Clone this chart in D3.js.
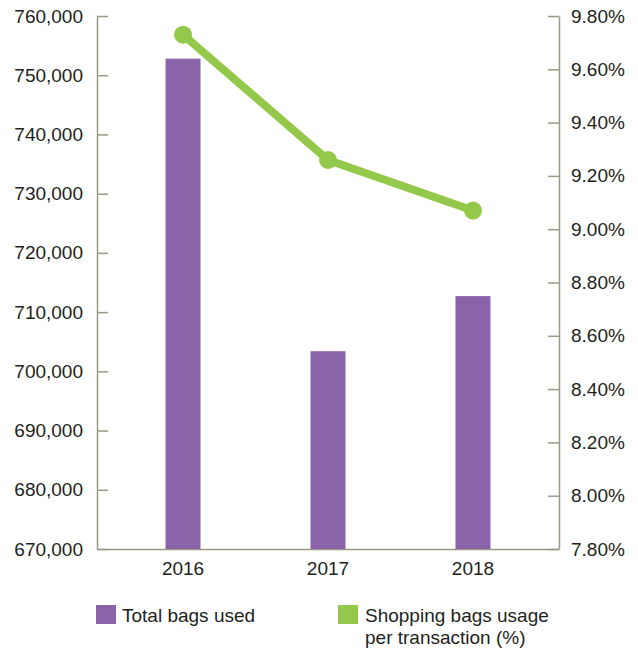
<!DOCTYPE html>
<html>
<head>
<meta charset="utf-8">
<script src="https://cdn.jsdelivr.net/npm/d3@7"></script>
<style>
  body { margin: 0; background: #fff; }
  svg text { font-family: "Liberation Sans", Arial, sans-serif; fill: #231f20; }
  .axis path, .axis line { stroke: #9a9a84; stroke-width: 1.5; }
</style>
</head>
<body>
<div id="chart"></div>
<script>
// data
const years = ["2016", "2017", "2018"];
const totalBags = [752800, 703400, 712700];
const usagePct = [9.73, 9.26, 9.07];
const leftTicks = [670000, 680000, 690000, 700000, 710000, 720000, 730000, 740000, 750000, 760000];
const rightTicks = [7.8, 8.0, 8.2, 8.4, 8.6, 8.8, 9.0, 9.2, 9.4, 9.6, 9.8];

const w = 638, h = 653;
const plotL = 97, plotR = 559, plotT = 16, plotB = 549;
const purple = "#8a63a9", green = "#93c84b";

const svg = d3.select("#chart").append("svg")
  .attr("width", w)
  .attr("height", h);

// scales
const x = d3.scaleBand()
  .domain(years)
  .range([plotL, plotR])
  .paddingInner(0.759)
  .paddingOuter(0.473);

const yLeft = d3.scaleLinear().domain([670000, 760000]).range([plotB, plotT]);
const yRight = d3.scaleLinear().domain([7.8, 9.8]).range([plotB, plotT]);

// left axis, ticks pointing inward
svg.append("g")
  .attr("class", "axis")
  .attr("transform", "translate(" + plotL + ",0)")
  .call(d3.axisLeft(yLeft).tickValues(leftTicks).tickSize(-11).tickSizeOuter(0)
    .tickPadding(14).tickFormat(d3.format(",")))
  .call(g => g.selectAll("text").style("font-size", "19px").attr("fill", "#231f20"));

// right axis
svg.append("g")
  .attr("class", "axis")
  .attr("transform", "translate(" + plotR + ",0)")
  .call(d3.axisRight(yRight).tickValues(rightTicks).tickSize(-11).tickSizeOuter(0)
    .tickPadding(12).tickFormat(d => d3.format(".2f")(d) + "%"))
  .call(g => g.selectAll("text").style("font-size", "19px").attr("fill", "#231f20"));

// bottom axis
svg.append("g")
  .attr("class", "axis")
  .attr("transform", "translate(0," + plotB + ")")
  .call(d3.axisBottom(x).tickSize(0).tickSizeOuter(0).tickPadding(13))
  .call(g => g.selectAll("text").style("font-size", "19px").attr("fill", "#231f20"));

// bars
svg.selectAll("rect.bar")
  .data(years)
  .enter()
  .append("rect")
  .attr("class", "bar")
  .attr("x", d => x(d))
  .attr("y", (d, i) => yLeft(totalBags[i]))
  .attr("width", x.bandwidth())
  .attr("height", (d, i) => plotB - yLeft(totalBags[i]))
  .attr("fill", purple);

// line + markers
const cx = d => x(d) + x.bandwidth() / 2;
const line = d3.line()
  .x((d, i) => cx(years[i]))
  .y(d => yRight(d));

svg.append("path")
  .datum(usagePct)
  .attr("d", line)
  .attr("fill", "none")
  .attr("stroke", green)
  .attr("stroke-width", 8);

svg.selectAll("circle.dot")
  .data(usagePct)
  .enter()
  .append("circle")
  .attr("class", "dot")
  .attr("cx", (d, i) => cx(years[i]))
  .attr("cy", d => yRight(d))
  .attr("r", 9)
  .attr("fill", green);

// legend
const legend = svg.append("g");
legend.append("rect").attr("x", 96).attr("y", 605).attr("width", 20).attr("height", 19).attr("fill", purple);
legend.append("text").attr("x", 122).attr("y", 622).style("font-size", "19px").text("Total bags used");
legend.append("rect").attr("x", 338).attr("y", 605).attr("width", 20).attr("height", 19).attr("fill", green);
legend.append("text").attr("x", 365).attr("y", 622).style("font-size", "19px").text("Shopping bags usage");
legend.append("text").attr("x", 365).attr("y", 644).style("font-size", "19px").text("per transaction (%)");
</script>
</body>
</html>
